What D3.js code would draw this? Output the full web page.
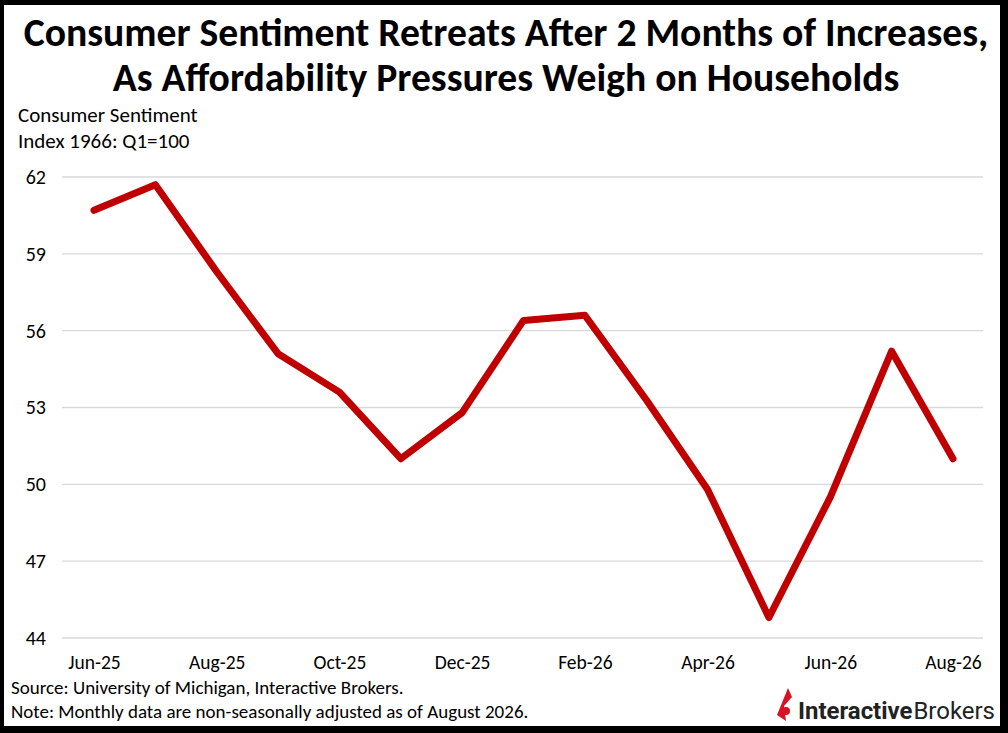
<!DOCTYPE html>
<html>
<head>
<meta charset="utf-8">
<script src="https://cdn.jsdelivr.net/npm/d3@7"></script>
<style>
  body { margin: 0; background: #fff; }
  svg { display: block; font-family: Carlito, Calibri, Lato, "Open Sans", sans-serif; }
</style>
</head>
<body>
<div id="chart"></div>
<script>
// Data
const months = ["Jun-25", "Jul-25", "Aug-25", "Sep-25", "Oct-25", "Nov-25", "Dec-25",
                "Jan-26", "Feb-26", "Mar-26", "Apr-26", "May-26", "Jun-26", "Jul-26", "Aug-26"];
const sentiment = [60.7, 61.7, 58.3, 55.1, 53.6, 51.0, 52.8, 56.4, 56.6, 53.3, 49.8, 44.8, 49.5, 55.2, 51.0];
const yTicks = [44, 47, 50, 53, 56, 59, 62];
const xLabels = ["Jun-25", "Aug-25", "Oct-25", "Dec-25", "Feb-26", "Apr-26", "Jun-26", "Aug-26"];

const titleLines = ["Consumer Sentiment Retreats After 2 Months of Increases,",
                    "As Affordability Pressures Weigh on Households"];
const yTitle = ["Consumer Sentiment", "Index 1966: Q1=100"];
const notes = ["Source: University of Michigan, Interactive Brokers.",
               "Note: Monthly data are non-seasonally adjusted as of August 2026."];

const width = 1008, height = 733;
const font = "Carlito, Calibri, Lato, 'Open Sans', sans-serif";

const svg = d3.select("#chart").append("svg")
  .attr("width", width).attr("height", height);

// frame
svg.append("rect").attr("x", 0).attr("y", 0).attr("width", width).attr("height", height).attr("fill", "#000");
svg.append("rect").attr("x", 4).attr("y", 5).attr("width", 996).attr("height", 721).attr("fill", "#fff");

// title, fitted to width
const titleWidths = [965, 787];
const title = svg.append("g");
titleLines.forEach((t, i) => {
  const txt = title.append("text")
    .attr("x", 506).attr("y", 46 + i * 45)
    .attr("text-anchor", "middle")
    .attr("font-weight", "bold")
    .attr("font-size", 34)
    .attr("fill", "#000")
    .text(t);
  const w = txt.node().getComputedTextLength();
  txt.attr("font-size", 34 * titleWidths[i] / w);
});

// y title
svg.append("g").selectAll("text").data(yTitle).join("text")
  .attr("x", 18).attr("y", (d, i) => 122 + i * 26)
  .attr("font-size", 21)
  .attr("fill", "#000")
  .text(d => d);

// scales
const x = d3.scalePoint().domain(months).range([94, 953]);
const y = d3.scaleLinear().domain([44, 62]).range([638, 177]);

// grid
svg.append("g").selectAll("line").data(yTicks).join("line")
  .attr("x1", 62).attr("x2", 983)
  .attr("y1", d => y(d)).attr("y2", d => y(d))
  .attr("stroke", "#d9d9d9").attr("stroke-width", 1.3);

// y axis
const yAxis = svg.append("g")
  .attr("transform", "translate(46,0)")
  .call(d3.axisLeft(y).tickValues(yTicks).tickSize(0).tickPadding(0));
yAxis.select(".domain").remove();
yAxis.selectAll("text").attr("font-size", 20).attr("fill", "#000").attr("font-family", font);

// x axis
const xAxis = svg.append("g")
  .attr("transform", "translate(0,652)")
  .call(d3.axisBottom(x).tickValues(xLabels).tickSize(0).tickPadding(0));
xAxis.select(".domain").remove();
xAxis.selectAll("text").attr("font-size", 19.5).attr("fill", "#000")
  .attr("dy", "0.85em").attr("font-family", font);

// line
const line = d3.line()
  .x((d, i) => x(months[i]))
  .y(d => y(d));

svg.append("path")
  .datum(sentiment)
  .attr("d", line)
  .attr("fill", "none")
  .attr("stroke", "#C00000")
  .attr("stroke-width", 7)
  .attr("stroke-linejoin", "round")
  .attr("stroke-linecap", "round");

// source notes
svg.append("g").selectAll("text").data(notes).join("text")
  .attr("x", 11).attr("y", (d, i) => 694 + i * 24)
  .attr("font-size", 19)
  .attr("fill", "#000")
  .text(d => d);

// logo
const logo = svg.append("g").attr("transform", "translate(776,708)");
logo.append("path")
  .attr("d", "M12,-20 L16,-11 L8,-2 L10,13 L1,7 Z")
  .attr("fill", "#d81222");
logo.append("circle").attr("cx", 10).attr("cy", 3).attr("r", 4).attr("fill", "#d81222");
const bold = logo.append("text")
  .attr("x", 22).attr("y", 11)
  .attr("font-family", "Roboto, Arial, sans-serif")
  .attr("font-size", 25).attr("font-weight", "bold")
  .attr("fill", "#222")
  .text("Interactive");
const reg = logo.append("text")
  .attr("y", 11)
  .attr("font-family", "Roboto, Arial, sans-serif")
  .attr("font-size", 25)
  .attr("fill", "#222")
  .text("Brokers");
const total = bold.node().getComputedTextLength() + reg.node().getComputedTextLength();
const fs = 25 * 196 / total;
bold.attr("font-size", fs);
reg.attr("font-size", fs);
reg.attr("x", 22 + bold.node().getComputedTextLength() + 1);
</script>
</body>
</html>
